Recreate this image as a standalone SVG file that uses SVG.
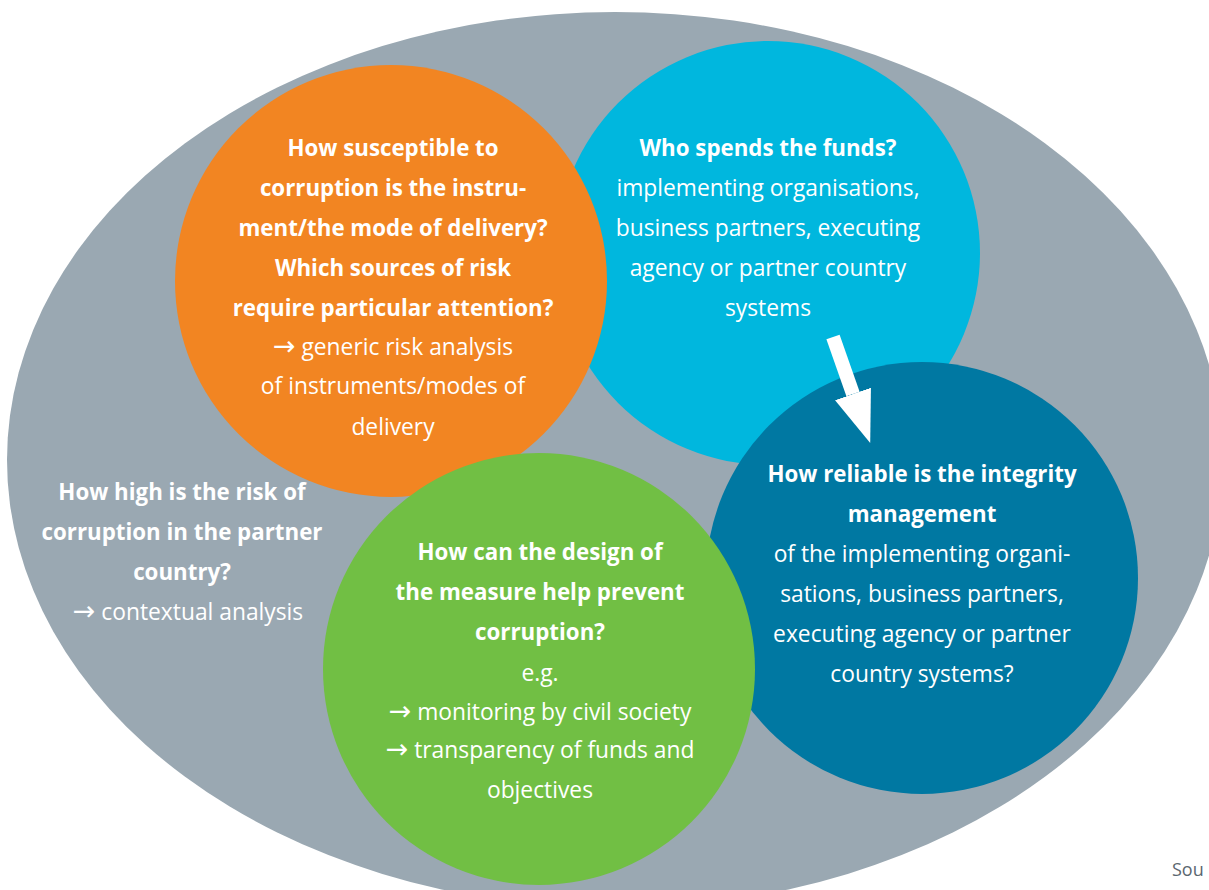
<svg xmlns="http://www.w3.org/2000/svg" width="1209" height="890" viewBox="0 0 1209 890">
<defs>
<style>
.t{font-family:"Open Sans","Noto Sans","DejaVu Sans",sans-serif;font-size:22.8px;fill:#ffffff;text-anchor:middle}
.b{font-weight:700;font-size:22.3px}
.ar{font-family:"DejaVu Sans",sans-serif;font-weight:400;font-size:27px}
.src{font-family:"Open Sans","Noto Sans",sans-serif;font-size:18px;fill:#5b6770}
</style>
<marker id="ah" markerUnits="userSpaceOnUse" markerWidth="52" markerHeight="38" refX="0" refY="19" orient="auto" viewBox="0 0 52 38">
<path d="M0,0 L52,19 L0,38 z" fill="#ffffff"/>
</marker>
</defs>
<rect width="1209" height="890" fill="#ffffff"/>
<g id="context">
<ellipse cx="615" cy="460" rx="608" ry="448" fill="#9aa8b2"/>
<text class="t b" x="182" y="500">How high is the risk of</text>
<text class="t b" x="182" y="540">corruption in the partner</text>
<text class="t b" x="182" y="580">country?</text>
<text class="t" x="188" y="620"><tspan class="ar">→</tspan> contextual analysis</text>
</g>
<g id="who-spends">
<circle cx="768" cy="253" r="212" fill="#00b7de"/>
<text class="t b" x="768" y="156">Who spends the funds?</text>
<text class="t" x="768" y="196">implementing organisations,</text>
<text class="t" x="768" y="236">business partners, executing</text>
<text class="t" x="768" y="276">agency or partner country</text>
<text class="t" x="768" y="316">systems</text>
</g>
<g id="instrument">
<circle cx="391" cy="281" r="216" fill="#f28522"/>
<text class="t b" x="393" y="156">How susceptible to</text>
<text class="t b" x="393" y="196">corruption is the instru-</text>
<text class="t b" x="393" y="236">ment/the mode of delivery?</text>
<text class="t b" x="393" y="276">Which sources of risk</text>
<text class="t b" x="393" y="316">require particular attention?</text>
<text class="t" x="393" y="355"><tspan class="ar">→</tspan> generic risk analysis</text>
<text class="t" x="393" y="394">of instruments/modes of</text>
<text class="t" x="393" y="435">delivery</text>
</g>
<g id="integrity">
<circle cx="922" cy="578" r="216" fill="#0078a2"/>
<text class="t b" x="922" y="482">How reliable is the integrity</text>
<text class="t b" x="922" y="522">management</text>
<text class="t" x="922" y="562">of the implementing organi-</text>
<text class="t" x="922" y="602">sations, business partners,</text>
<text class="t" x="922" y="642">executing agency or partner</text>
<text class="t" x="922" y="682">country systems?</text>
</g>
<g id="design">
<circle cx="539" cy="669" r="216" fill="#71bf44"/>
<text class="t b" x="540" y="560">How can the design of</text>
<text class="t b" x="540" y="600">the measure help prevent</text>
<text class="t b" x="540" y="640">corruption?</text>
<text class="t" x="540" y="681">e.g.</text>
<text class="t" x="540" y="720"><tspan class="ar">→</tspan> monitoring by civil society</text>
<text class="t" x="540" y="758"><tspan class="ar">→</tspan> transparency of funds and</text>
<text class="t" x="540" y="798">objectives</text>
</g>
<g id="connectors">
<line x1="833" y1="337" x2="853" y2="394" stroke="#ffffff" stroke-width="14" marker-end="url(#ah)"/>
</g>
<text class="src" x="1172" y="876">Sou</text>
</svg>
